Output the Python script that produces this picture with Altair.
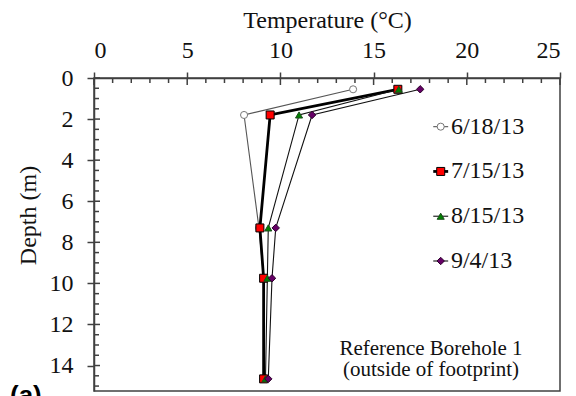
import altair as alt
import pandas as pd

# Borehole temperature profiles (Reference Borehole 1)
depth_m = [0.55, 1.8, 7.3, 9.75, 14.65]
series_names = ["6/18/13", "7/15/13", "8/15/13", "9/4/13"]
temp_0618 = [13.9, 8.05, 8.85, 9.1, 9.1]
temp_0715 = [16.3, 9.45, 8.9, 9.1, 9.1]
temp_0815 = [16.35, 11.0, 9.35, 9.3, 9.2]
temp_0904 = [17.5, 11.7, 9.75, 9.55, 9.35]

# axis ticks
x_major = [0, 5, 10, 15, 20, 25]
x_minor = [v for v in range(0, 26) if v % 5 != 0]
y_major = [0, 2, 4, 6, 8, 10, 12, 14]
y_minor = [k * 0.5 for k in range(0, 31) if k % 4 != 0]

SERIF = "'Liberation Serif', 'Times New Roman', serif"
INK = "#111111"
FRAME = "#404040"

profiles = [temp_0618, temp_0715, temp_0815, temp_0904]
rows = []
for name, temps in zip(series_names, profiles):
    for i, (d, t) in enumerate(zip(depth_m, temps)):
        rows.append({"series": name, "idx": i, "depth": d, "temp": t})
df = pd.DataFrame(rows)

xs = alt.Scale(domain=[0, 25], nice=False, zero=False)
ys = alt.Scale(domain=[0, 15.24], reverse=True, nice=False, zero=False)

line_color = alt.Scale(type="ordinal", domain=series_names,
                       range=["#555555", "#000000", "#111111", "#111111"])
line_width = alt.Scale(type="ordinal", domain=series_names, range=[1.1, 2.8, 1.1, 1.1])
shape_sc = alt.Scale(type="ordinal", domain=series_names,
                     range=["circle", "square", "triangle-up", "diamond"])
fill_sc = alt.Scale(type="ordinal", domain=series_names,
                    range=["#ffffff", "#ff0000", "#008000", "#660066"])
stroke_sc = alt.Scale(type="ordinal", domain=series_names,
                      range=["#777777", "#000000", "#1c4d1c", "#2a002a"])
size_sc = alt.Scale(type="ordinal", domain=series_names, range=[50, 64, 50, 55])
size_leg = alt.Scale(type="ordinal", domain=series_names, range=[24, 44, 34, 34])

x_axis = alt.Axis(
    orient="top", values=x_major, tickSize=6, tickWidth=1.5, tickColor=FRAME,
    domainColor=FRAME, domainWidth=1.5, grid=False,
    labelFont=SERIF, labelFontSize=24, labelColor=INK, labelPadding=15,
    labelBaseline="alphabetic",
    title="Temperature (°C)", titleFont=SERIF, titleFontSize=24,
    titleFontWeight="normal", titleColor=INK, titleBaseline="alphabetic",
    titleY=-51,
)
y_axis = alt.Axis(
    orient="left", values=y_major, tickSize=7, tickWidth=1.5, tickColor=FRAME,
    domainColor=FRAME, domainWidth=1.5, grid=False,
    labelFont=SERIF, labelFontSize=24, labelColor=INK, labelPadding=14,
    title="Depth (m)", titleFont=SERIF, titleFontSize=24,
    titleFontWeight="normal", titleColor=INK, titleBaseline="middle",
    titleAlign="center", titleX=-66, titleY=137,
)


def X(field):
    return alt.X(field, scale=xs, axis=x_axis)


def Y(field):
    return alt.Y(field, scale=ys, axis=y_axis)


lines = alt.Chart(df).mark_line().encode(
    x=X("temp:Q"),
    y=Y("depth:Q"),
    detail="series:N",
    order="idx:Q",
    color=alt.Color("series:N", scale=line_color, legend=None),
    strokeWidth=alt.StrokeWidth("series:N", scale=line_width, legend=None),
)

points = alt.Chart(df).mark_point(filled=True, opacity=1, strokeWidth=1).encode(
    x=X("temp:Q"),
    y=Y("depth:Q"),
    shape=alt.Shape("series:N", scale=shape_sc, legend=None),
    fill=alt.Fill("series:N", scale=fill_sc, legend=None),
    stroke=alt.Stroke("series:N", scale=stroke_sc, legend=None),
    size=alt.Size("series:N", scale=size_sc, legend=None),
)

# inward-facing tick marks on the top and left axes
xt_major = alt.Chart(pd.DataFrame({"temp": x_major})).mark_rule(color=FRAME, strokeWidth=1.5).encode(
    x=X("temp:Q"), y=alt.value(0), y2=alt.value(7))
xt_minor = alt.Chart(pd.DataFrame({"temp": x_minor})).mark_rule(color=FRAME, strokeWidth=1.5).encode(
    x=X("temp:Q"), y=alt.value(0), y2=alt.value(5))
yt_major = alt.Chart(pd.DataFrame({"depth": y_major})).mark_rule(color=FRAME, strokeWidth=1.5).encode(
    y=Y("depth:Q"), x=alt.value(0), x2=alt.value(6))
yt_minor = alt.Chart(pd.DataFrame({"depth": y_minor})).mark_rule(color=FRAME, strokeWidth=1.5).encode(
    y=Y("depth:Q"), x=alt.value(0), x2=alt.value(5))

# legend drawn inside the plot, right side
leg_x = 18.6
leg_half = 0.4
leg_top = 2.37
leg_gap = 2.18
legend_df = pd.DataFrame({
    "series": series_names,
    "depth": [leg_top + i * leg_gap for i in range(len(series_names))],
})
legend_df["temp"] = leg_x
legend_df["t0"] = leg_x - leg_half
legend_df["t1"] = leg_x + leg_half
legend_df["tx"] = leg_x + 0.55

leg_lines = alt.Chart(legend_df).mark_rule().encode(
    x=X("t0:Q"), x2="t1",
    y=Y("depth:Q"),
    color=alt.Color("series:N", scale=line_color, legend=None),
    strokeWidth=alt.StrokeWidth("series:N", scale=line_width, legend=None),
)
leg_points = alt.Chart(legend_df).mark_point(filled=True, opacity=1, strokeWidth=1).encode(
    x=X("temp:Q"),
    y=Y("depth:Q"),
    shape=alt.Shape("series:N", scale=shape_sc, legend=None),
    fill=alt.Fill("series:N", scale=fill_sc, legend=None),
    stroke=alt.Stroke("series:N", scale=stroke_sc, legend=None),
    size=alt.Size("series:N", scale=size_leg, legend=None),
)
leg_text = alt.Chart(legend_df).mark_text(
    align="left", baseline="middle", font=SERIF, fontSize=24, color=INK
).encode(
    x=X("tx:Q"),
    y=Y("depth:Q"),
    text="series:N",
)

# two-line site note in the lower right corner
note_df = pd.DataFrame({
    "line": ["Reference Borehole 1\n(outside of footprint)"],
    "temp": [18.08],
    "depth": [13.48],
})
note = alt.Chart(note_df).mark_text(
    align="center", baseline="alphabetic", font=SERIF, fontSize=21,
    lineBreak="\n", lineHeight=21, color=INK
).encode(
    x=X("temp:Q"),
    y=Y("depth:Q"),
    text="line:N",
)

panel = alt.Chart(pd.DataFrame({"lbl": ["(a)"]})).mark_text(
    align="left", baseline="alphabetic", font="'Liberation Sans', Arial, sans-serif",
    fontSize=26, fontWeight="bold", color="#000000"
).encode(x=alt.value(-84), y=alt.value(326), text="lbl:N")

chart = alt.layer(
    lines, xt_major, xt_minor, yt_major, yt_minor, points,
    leg_lines, leg_points, leg_text, note, panel,
).properties(
    width=466, height=313,
    padding={"left": 94, "top": 78, "right": 16, "bottom": 5},
    autosize=alt.AutoSizeParams(type="none"),
    background="white",
).configure_view(stroke=FRAME, strokeWidth=1.5)

chart.save("out.html", embed_options={"renderer": "svg", "actions": False})
